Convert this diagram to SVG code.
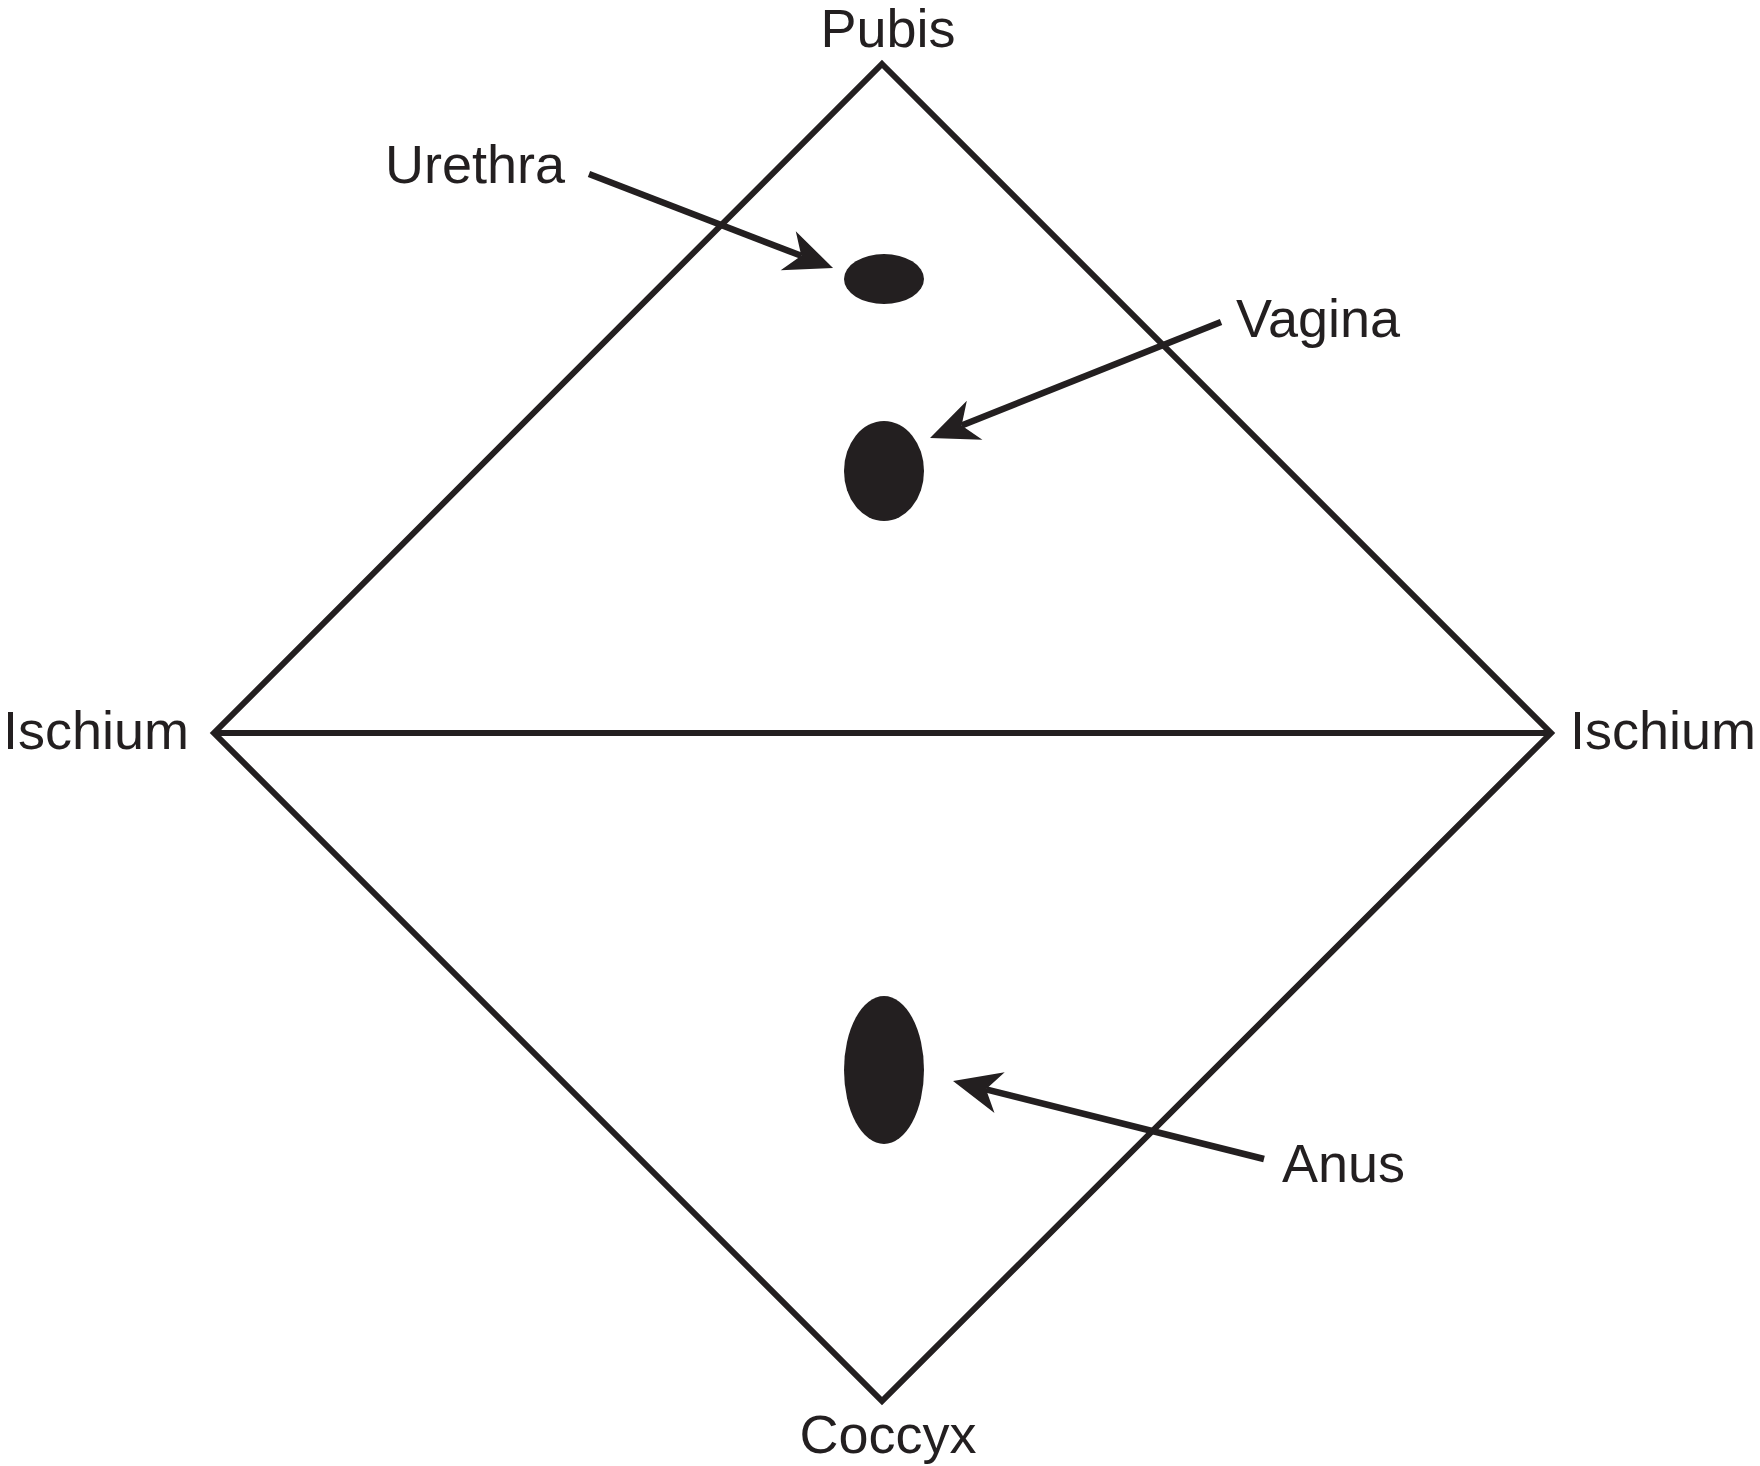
<svg xmlns="http://www.w3.org/2000/svg" width="1760" height="1466" viewBox="0 0 1760 1466">
<style>
.lbl{font-family:"Liberation Sans",Arial,sans-serif;font-size:54px;fill:#231f20}
.edge{fill:none;stroke:#231f20;stroke-width:6;stroke-linejoin:miter}
.arrow{fill:none;stroke:#231f20;stroke-width:6.5;marker-end:url(#barb)}
.hole{fill:#231f20}
</style>
<defs>
<marker id="barb" markerUnits="userSpaceOnUse" markerWidth="48" markerHeight="42" refX="14" refY="21" orient="auto" overflow="visible">
<path d="M48,21 L0,0 L14,21 L0,42 Z" fill="#231f20"/>
</marker>
</defs>
<rect width="1760" height="1466" fill="#ffffff"/>
<g id="diamond">
<polygon class="edge" points="882,64 1551,733 882,1401 214,733"/>
<line class="edge" x1="214" y1="733" x2="1551" y2="733"/>
</g>
<g id="urethra">
<ellipse class="hole" cx="884" cy="279" rx="40" ry="25"/>
<text class="lbl" x="385" y="183">Urethra</text>
</g>
<g id="vagina">
<ellipse class="hole" cx="884" cy="471" rx="40" ry="50"/>
<text class="lbl" x="1236" y="337">Vagina</text>
</g>
<g id="anus">
<ellipse class="hole" cx="884" cy="1070" rx="40" ry="74"/>
<text class="lbl" x="1282" y="1182">Anus</text>
</g>
<g id="pubis"><text class="lbl" x="888" y="47" text-anchor="middle">Pubis</text></g>
<g id="coccyx"><text class="lbl" x="888" y="1453" text-anchor="middle">Coccyx</text></g>
<g id="ischium-left"><text class="lbl" x="3" y="749">Ischium</text></g>
<g id="ischium-right"><text class="lbl" x="1570" y="749">Ischium</text></g>
<g id="connectors">
<line class="arrow" x1="589" y1="174" x2="801.3" y2="255.8"/>
<line class="arrow" x1="1221" y1="322" x2="961.6" y2="425.4"/>
<line class="arrow" x1="1264" y1="1159" x2="986" y2="1089.3"/>
</g>
</svg>
